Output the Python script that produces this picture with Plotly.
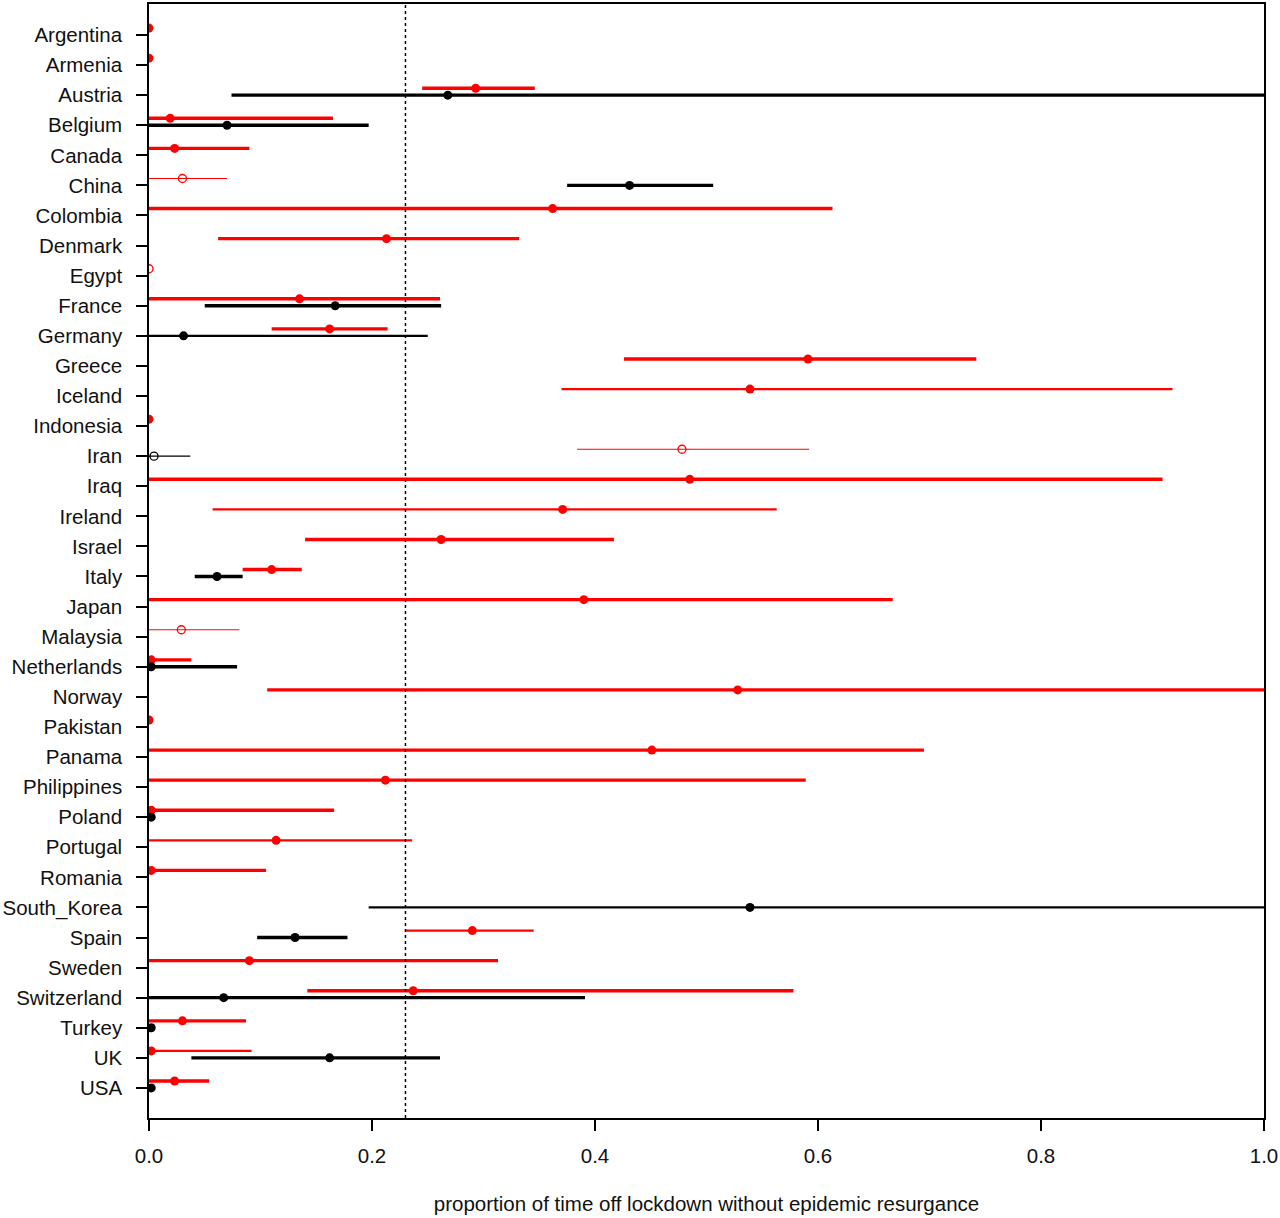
import plotly.graph_objects as go

countries = ["Argentina", "Armenia", "Austria", "Belgium", "Canada", "China", "Colombia",
             "Denmark", "Egypt", "France", "Germany", "Greece", "Iceland", "Indonesia", "Iran",
             "Iraq", "Ireland", "Israel", "Italy", "Japan", "Malaysia", "Netherlands", "Norway",
             "Pakistan", "Panama", "Philippines", "Poland", "Portugal", "Romania", "South_Korea",
             "Spain", "Sweden", "Switzerland", "Turkey", "UK", "USA"]

# red series: estimate, lower, upper, line class (3 thick, 2 medium, 1 thin), open marker
red_pt = [0.0, 0.0, 0.293, 0.019, 0.023, 0.030, 0.362, 0.213, 0.0, 0.135, 0.162, 0.591, 0.539,
          0.0, 0.478, 0.485, 0.371, 0.262, 0.110, 0.390, 0.029, 0.002, 0.528, 0.0, 0.451, 0.212,
          0.002, 0.114, 0.002, None, 0.290, 0.090, 0.237, 0.030, 0.002, 0.023]
red_lo = [0.0, 0.0, 0.245, 0.0, 0.0, 0.0, 0.0, 0.062, 0.0, 0.0, 0.110, 0.426, 0.370,
          0.0, 0.384, 0.0, 0.057, 0.140, 0.084, 0.0, 0.0, 0.0, 0.106, 0.0, 0.0, 0.0,
          0.0, 0.0, 0.0, None, 0.230, 0.0, 0.142, 0.0, 0.0, 0.0]
red_hi = [0.0, 0.0, 0.346, 0.165, 0.090, 0.070, 0.613, 0.332, 0.0, 0.261, 0.214, 0.742, 0.918,
          0.0, 0.592, 0.909, 0.563, 0.417, 0.137, 0.667, 0.081, 0.038, 1.0, 0.0, 0.695, 0.589,
          0.166, 0.236, 0.105, None, 0.345, 0.313, 0.578, 0.087, 0.092, 0.054]
red_w = [3, 3, 3, 3, 3, 1, 3, 3, 1, 3, 3, 3, 2, 3, 1, 3, 2, 3, 3, 3, 1, 3, 3, 3, 3, 3,
         3, 2, 3, None, 2, 3, 3, 3, 2, 3]
red_open = [False, False, False, False, False, True, False, False, True, False, False, False,
            False, False, True, False, False, False, False, False, True, False, False, False,
            False, False, False, False, False, None, False, False, False, False, False, False]

# black series
blk_country = ["Austria", "Belgium", "China", "France", "Germany", "Iran", "Italy",
               "Netherlands", "Poland", "South_Korea", "Spain", "Switzerland", "Turkey", "UK", "USA"]
blk_pt = [0.268, 0.070, 0.431, 0.167, 0.031, 0.0045, 0.061, 0.002, 0.002, 0.539, 0.131, 0.067,
          0.002, 0.162, 0.002]
blk_lo = [0.074, 0.0, 0.375, 0.050, 0.0, 0.0, 0.041, 0.0, 0.0, 0.197, 0.097, 0.0, 0.0, 0.038, 0.0]
blk_hi = [1.0, 0.197, 0.506, 0.262, 0.250, 0.037, 0.084, 0.079, 0.002, 1.0, 0.178, 0.391,
          0.0, 0.261, 0.0]
blk_w = [3, 3, 3, 3, 2, 1, 3, 3, 3, 2, 3, 3, 3, 3, 3]
blk_open = [False, False, False, False, False, True, False, False, False, False, False, False,
            False, False, False]

threshold = 0.23
xlabel = "proportion of time off lockdown without epidemic resurgance"
xticks = [0.0, 0.2, 0.4, 0.6, 0.8, 1.0]

RED = "#ff0000"
BLK = "#000000"
RED_OFF = -0.23
WIDTH_PX = {1: 1.2, 2: 2.3, 3: 3.4}
pos = {c: i for i, c in enumerate(countries)}

fig = go.Figure()


def add_series(names, pts, los, his, ws, opens, color, off):
    groups = {}
    for c, p, lo, hi, w, o in zip(names, pts, los, his, ws, opens):
        if p is None:
            continue
        y = pos[c] + off
        if hi > lo:
            g = groups.setdefault(w, ([], []))
            g[0].extend([lo, hi, None])
            g[1].extend([y, y, None])
    for w, (xs, ys) in groups.items():
        fig.add_trace(go.Scatter(x=xs, y=ys, mode="lines",
                                 line=dict(color=color, width=WIDTH_PX[w]),
                                 hoverinfo="skip", showlegend=False))
    fx, fy, ox, oy = [], [], [], []
    for c, p, o in zip(names, pts, opens):
        if p is None:
            continue
        if o:
            ox.append(p); oy.append(pos[c] + off)
        else:
            fx.append(p); fy.append(pos[c] + off)
    fig.add_trace(go.Scatter(x=fx, y=fy, mode="markers",
                             marker=dict(color=color, size=9, line=dict(width=0)),
                             showlegend=False))
    if ox:
        fig.add_trace(go.Scatter(x=ox, y=oy, mode="markers",
                                 marker=dict(symbol="circle-open", color=color, size=8,
                                             line=dict(width=1.3)),
                                 showlegend=False))


add_series(countries, red_pt, red_lo, red_hi, red_w, red_open, RED, RED_OFF)
add_series(blk_country, blk_pt, blk_lo, blk_hi, blk_w, blk_open, BLK, 0.0)

fig.add_vline(x=threshold, line=dict(color="black", width=1.5, dash="dot"))

font = dict(family="Liberation Sans, Arial, sans-serif", size=20.5, color="#111111")

fig.update_layout(
    width=1280, height=1218,
    margin=dict(l=148, r=16, t=2, b=100),
    paper_bgcolor="white", plot_bgcolor="white",
    font=font,
    xaxis=dict(range=[0, 1], tickvals=xticks, ticktext=[f"{v:.1f}" for v in xticks],
               ticks="outside", ticklen=11, tickwidth=1.5, tickcolor="black",
               showline=True, linecolor="black", linewidth=1.5, mirror=True,
               showgrid=False, zeroline=False, ticklabelstandoff=8,
               title=dict(text=xlabel, standoff=30, font=font)),
    yaxis=dict(range=[36.0, -1.03], tickvals=list(range(len(countries))), ticktext=countries,
               ticks="outside", ticklen=11, tickwidth=1.5, tickcolor="black",
               showline=True, linecolor="black", linewidth=1.5, mirror=True,
               showgrid=False, zeroline=False, ticklabelstandoff=10),
)

fig.write_html("out.html", config={"displayModeBar": False},
               post_script="document.body.style.margin='0';")
